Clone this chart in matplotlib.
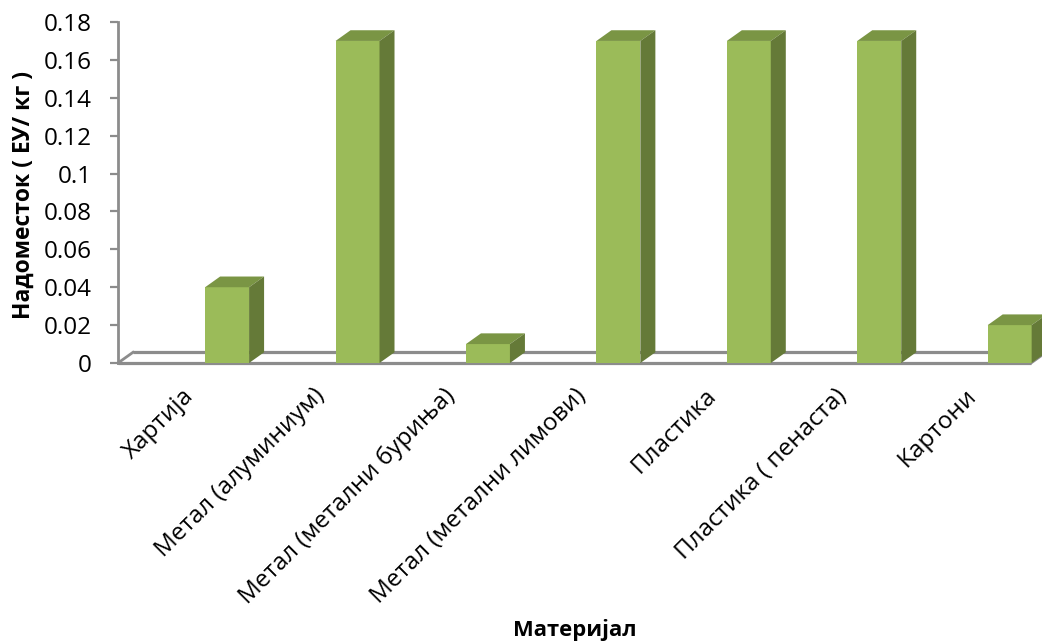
import matplotlib
matplotlib.use("Agg")
import matplotlib.pyplot as plt
from matplotlib.patches import Polygon
from matplotlib.transforms import ScaledTranslation

categories = ["Хартија", "Метал (алуминиум)", "Метал (метални буриња)",
              "Метал (метални лимови)", "Пластика", "Пластика ( пенаста)", "Картони"]
values = [0.04, 0.17, 0.01, 0.17, 0.17, 0.17, 0.02]
yticks = [0, 0.02, 0.04, 0.06, 0.08, 0.1, 0.12, 0.14, 0.16, 0.18]
ytick_labels = ["0", "0.02", "0.04", "0.06", "0.08", "0.1", "0.12", "0.14", "0.16", "0.18"]
ylabel = "Надоместок ( ЕУ/ кг )"
xlabel = "Материјал"

FONT = ["Open Sans", "DejaVu Sans"]
plt.rcParams['font.family'] = FONT

W, H = 1042, 644
fig = plt.figure(figsize=(W / 100, H / 100), dpi=100)
x0, x1, ytop, ybot = 118, 1031, 22, 363
ax = fig.add_axes([x0 / W, 1 - ybot / H, (x1 - x0) / W, (ybot - ytop) / H])
n = len(categories)
ax.set_xlim(0, n)
ax.set_ylim(0, 0.18)

# depth offsets (in data units)
px_per_x = (x1 - x0) / n
px_per_y = (ybot - ytop) / 0.18
ddx = 15 / px_per_x
ddy = 10.7 / px_per_y

gray = "#8c8c8c"
# floor edges
ax.plot([0, n], [0, 0], color=gray, lw=2.3, clip_on=False, zorder=1, solid_capstyle='butt')
ax.plot([0, ddx], [0, ddy], color=gray, lw=2.0, clip_on=False, zorder=1)
ax.plot([ddx, n + ddx], [ddy, ddy], color=gray, lw=2.3, clip_on=False, zorder=1, solid_capstyle='butt')
ax.plot([n, n + ddx], [0, ddy], color=gray, lw=2.0, clip_on=False, zorder=1)

front_c = "#9bbb59"
top_c = "#7a9544"
side_c = "#657a38"
bw = 0.337
lefts = [i + 0.668 for i in range(n)]
bars = ax.bar(lefts, values, width=bw, align='edge', color=front_c,
              edgecolor='none', zorder=3, clip_on=False)
for l, v in zip(lefts, values):
    r = l + bw
    top = Polygon([(l, v), (r, v), (r + ddx, v + ddy), (l + ddx, v + ddy)],
                  closed=True, facecolor=top_c, edgecolor='none', zorder=3, clip_on=False)
    side = Polygon([(r, 0), (r, v), (r + ddx, v + ddy), (r + ddx, ddy)],
                   closed=True, facecolor=side_c, edgecolor='none', zorder=3, clip_on=False)
    ax.add_patch(top)
    ax.add_patch(side)

for s in ["top", "right", "bottom"]:
    ax.spines[s].set_visible(False)
ax.spines["left"].set_color(gray)
ax.spines["left"].set_linewidth(2.0)
ax.set_yticks(yticks)
ax.set_yticklabels(ytick_labels, fontsize=17.5)
ax.tick_params(axis='y', direction='out', length=6, width=1.6, color=gray, pad=13)

ax.set_xticks([i + 0.5 for i in range(n)])
ax.set_xticklabels(categories, fontsize=17.5, rotation=45, ha='right', va='top',
                   rotation_mode='anchor')
ax.tick_params(axis='x', length=0, pad=15)
offset = ScaledTranslation(-1 / 100, 0, fig.dpi_scale_trans)
for lab in ax.get_xticklabels():
    lab.set_transform(lab.get_transform() + offset)

fig.text(24 / W, 1 - 195 / H, ylabel, rotation=90, fontsize=16.5, fontweight='bold',
         ha='center', va='center')
fig.text(575 / W, 1 - 630 / H, xlabel, fontsize=15.8, fontweight='bold',
         ha='center', va='center')

fig.savefig("out.png", dpi=100)
